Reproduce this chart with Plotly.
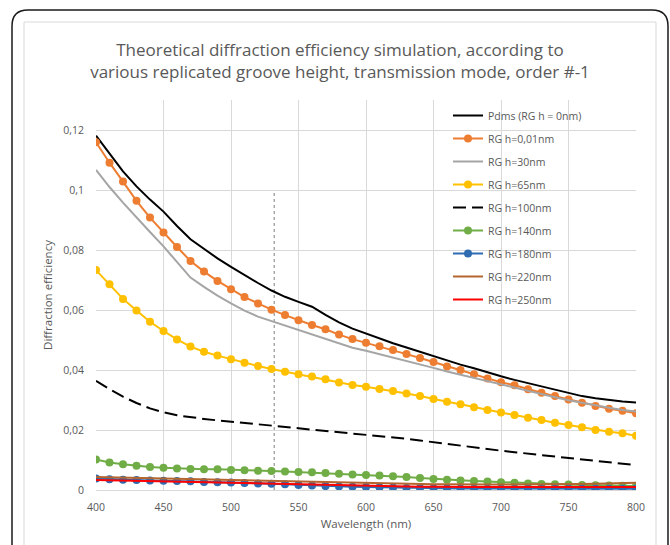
import plotly.graph_objects as go

# Wavelength samples (nm)
wavelength = [400, 410, 420, 430, 440, 450, 460, 470, 480, 490,
              500, 510, 520, 530, 540, 550, 560, 570, 580, 590,
              600, 610, 620, 630, 640, 650, 660, 670, 680, 690,
              700, 710, 720, 730, 740, 750, 760, 770, 780, 790, 800]

# Diffraction efficiency, order -1, for each replicated groove height
pdms_0nm = [0.1181, 0.1120, 0.1062, 0.1012, 0.0968, 0.0928, 0.0880, 0.0836, 0.0803, 0.0772,
            0.0744, 0.0716, 0.0690, 0.0665, 0.0644, 0.0627, 0.0611, 0.0584, 0.0559, 0.0538,
            0.0521, 0.0505, 0.0489, 0.0475, 0.0461, 0.0446, 0.0431, 0.0418, 0.0406, 0.0392,
            0.0379, 0.0367, 0.0356, 0.0344, 0.0333, 0.0322, 0.0313, 0.0306, 0.0300, 0.0295, 0.0292]
rg_001nm = [0.1159, 0.1091, 0.1028, 0.0964, 0.0908, 0.0858, 0.0810, 0.0763, 0.0728, 0.0697,
            0.0669, 0.0643, 0.0622, 0.0601, 0.0583, 0.0566, 0.0550, 0.0536, 0.0518, 0.0503,
            0.0491, 0.0479, 0.0467, 0.0453, 0.0440, 0.0427, 0.0412, 0.0400, 0.0386, 0.0372,
            0.0359, 0.0349, 0.0336, 0.0324, 0.0313, 0.0302, 0.0291, 0.0280, 0.0271, 0.0264, 0.0256]
rg_30nm = [0.1067, 0.1010, 0.0958, 0.0908, 0.0860, 0.0812, 0.0760, 0.0708, 0.0677, 0.0648,
           0.0622, 0.0598, 0.0578, 0.0563, 0.0548, 0.0533, 0.0518, 0.0502, 0.0487, 0.0474,
           0.0464, 0.0453, 0.0442, 0.0430, 0.0418, 0.0407, 0.0395, 0.0384, 0.0373, 0.0362,
           0.0352, 0.0341, 0.0330, 0.0320, 0.0309, 0.0299, 0.0290, 0.0281, 0.0274, 0.0267, 0.0262]
rg_65nm = [0.0733, 0.0686, 0.0637, 0.0598, 0.0561, 0.0530, 0.0502, 0.0478, 0.0461, 0.0448,
           0.0436, 0.0424, 0.0413, 0.0403, 0.0394, 0.0386, 0.0378, 0.0369, 0.0358, 0.0350,
           0.0344, 0.0337, 0.0330, 0.0322, 0.0313, 0.0303, 0.0294, 0.0286, 0.0276, 0.0267,
           0.0258, 0.0250, 0.0241, 0.0233, 0.0224, 0.0217, 0.0209, 0.0200, 0.0194, 0.0189, 0.0181]
rg_100nm = [0.0364, 0.0336, 0.0311, 0.0290, 0.0272, 0.0259, 0.0249, 0.0242, 0.0237, 0.0232,
            0.0228, 0.0224, 0.0220, 0.0215, 0.0211, 0.0206, 0.0201, 0.0197, 0.0192, 0.0187,
            0.0184, 0.0180, 0.0176, 0.0171, 0.0165, 0.0159, 0.0153, 0.0147, 0.0142, 0.0136,
            0.0131, 0.0126, 0.0121, 0.0116, 0.0111, 0.0106, 0.0101, 0.0096, 0.0092, 0.0087, 0.0083]
rg_140nm = [0.0102, 0.0092, 0.0086, 0.0081, 0.0077, 0.0074, 0.0072, 0.0070, 0.0069, 0.0069,
            0.0067, 0.0066, 0.0064, 0.0063, 0.0062, 0.0060, 0.0059, 0.0057, 0.0054, 0.0052,
            0.0050, 0.0048, 0.0046, 0.0043, 0.0040, 0.0037, 0.0034, 0.0032, 0.0030, 0.0028,
            0.0026, 0.0024, 0.0022, 0.0020, 0.0019, 0.0018, 0.0017, 0.0016, 0.0015, 0.0014, 0.0013]
rg_180nm = [0.0038, 0.0036, 0.0034, 0.0033, 0.0032, 0.0031, 0.0030, 0.0029, 0.0027, 0.0026,
            0.0025, 0.0023, 0.0022, 0.0021, 0.0019, 0.0017, 0.0015, 0.0013, 0.0012, 0.0011,
            0.0010, 0.0009, 0.0008, 0.0007, 0.0007, 0.0006, 0.0006, 0.0005, 0.0005, 0.0005,
            0.0005, 0.0004, 0.0004, 0.0004, 0.0004, 0.0004, 0.0004, 0.0004, 0.0004, 0.0004, 0.0004]
rg_220nm = [0.0043, 0.0042, 0.0041, 0.0040, 0.0039, 0.0038, 0.0037, 0.0036, 0.0035, 0.0034,
            0.0032, 0.0031, 0.0030, 0.0029, 0.0028, 0.0027, 0.0026, 0.0025, 0.0024, 0.0023,
            0.0022, 0.0021, 0.0021, 0.0020, 0.0020, 0.0019, 0.0019, 0.0018, 0.0018, 0.0018,
            0.0018, 0.0018, 0.0018, 0.0019, 0.0019, 0.0019, 0.0020, 0.0021, 0.0022, 0.0023, 0.0024]
rg_250nm = [0.0033, 0.0032, 0.0031, 0.0030, 0.0029, 0.0028, 0.0027, 0.0026, 0.0025, 0.0024,
            0.0023, 0.0022, 0.0021, 0.0020, 0.0019, 0.0018, 0.0017, 0.0016, 0.0015, 0.0014,
            0.0013, 0.0012, 0.0012, 0.0011, 0.0011, 0.0011, 0.0010, 0.0010, 0.0010, 0.0010,
            0.0010, 0.0010, 0.0010, 0.0010, 0.0010, 0.0010, 0.0010, 0.0010, 0.0010, 0.0010, 0.0010]

series_names = ["Pdms (RG h = 0nm)", "RG h=0,01nm", "RG h=30nm", "RG h=65nm", "RG h=100nm",
                "RG h=140nm", "RG h=180nm", "RG h=220nm", "RG h=250nm"]

# Reference wavelength marker (green laser line)
marker_wavelength = [532, 532]
marker_range = [0, 0.1]

x_ticks = [400, 450, 500, 550, 600, 650, 700, 750, 800]

FONT = "Open Sans"
TEXT = "#595959"
GRID = "#d9d9d9"

W, H = 670, 545
L, R, T, B = 96, 34, 100, 55
PW, PH = W - L - R, H - T - B

styles = [
    dict(color="#000000", dash="solid", markers=False),
    dict(color="#ED7D31", dash="solid", markers=True),
    dict(color="#A5A5A5", dash="solid", markers=False),
    dict(color="#FFC000", dash="solid", markers=True),
    dict(color="#000000", dash="13px,6px", markers=False),
    dict(color="#70AD47", dash="solid", markers=True),
    dict(color="#2E6BB0", dash="solid", markers=True),
    dict(color="#B5652E", dash="solid", markers=False),
    dict(color="#FF0000", dash="solid", markers=False),
]
values = [pdms_0nm, rg_001nm, rg_30nm, rg_65nm, rg_100nm, rg_140nm, rg_180nm, rg_220nm, rg_250nm]

fig = go.Figure()

fig.add_trace(go.Scatter(
    x=marker_wavelength, y=marker_range, mode="lines",
    line=dict(color="#7f7f7f", width=1, dash="dot"),
    showlegend=False, hoverinfo="skip"))

for name, ys, st in zip(series_names, values, styles):
    fig.add_trace(go.Scatter(
        x=wavelength, y=ys, name=name, legendgroup=name,
        mode="lines+markers" if st["markers"] else "lines",
        line=dict(color=st["color"], width=2, dash=st["dash"]),
        marker=dict(size=8, color=st["color"]),
    ))


def px_x(p):
    return (p - L) / PW


def px_y(p):
    return (H - B - p) / PH


def frame_path(x0, y0, x1, y1, r):
    return (f"M {px_x(x0)} {px_y(y1)} L {px_x(x0)} {px_y(y0 + r)} "
            f"Q {px_x(x0)} {px_y(y0)} {px_x(x0 + r)} {px_y(y0)} "
            f"L {px_x(x1 - r)} {px_y(y0)} "
            f"Q {px_x(x1)} {px_y(y0)} {px_x(x1)} {px_y(y0 + r)} "
            f"L {px_x(x1)} {px_y(y1)}")


shapes = [
    dict(type="path", xref="paper", yref="paper", layer="below",
         path=frame_path(12, 10, 668, 580, 16), line=dict(color="#1a1a1a", width=1.5)),
    dict(type="path", xref="paper", yref="paper", layer="below",
         path=frame_path(24, 22, 656, 580, 0), line=dict(color=GRID, width=1)),
]

fig.update_layout(
    width=W, height=H,
    margin=dict(l=L, r=R, t=T, b=B),
    paper_bgcolor="white", plot_bgcolor="white",
    separators=",.",
    font=dict(family=FONT, color=TEXT, size=11),
    title=dict(
        text="Theoretical diffraction efficiency simulation, according to<br>"
             "various replicated groove height, transmission mode, order #-1",
        x=340 / W, xref="container", xanchor="center",
        y=1 - 56 / H, yref="container", yanchor="top",
        font=dict(family=FONT, size=17, color=TEXT)),
    xaxis=dict(
        range=[400, 800], tickvals=x_ticks, showgrid=True, gridcolor=GRID, gridwidth=1,
        zeroline=False, showline=True, linecolor=GRID, ticks="",
        ticklabelstandoff=7, tickfont=dict(size=10.5, color=TEXT),
        title=dict(text="Wavelength (nm)", standoff=7, font=dict(size=11.5, color=TEXT)),
        automargin=False),
    yaxis=dict(
        range=[0, 0.13], dtick=0.02, tick0=0, showgrid=True, gridcolor=GRID, gridwidth=1,
        zeroline=False, showline=False, ticks="",
        ticklabelstandoff=11, tickfont=dict(size=10.5, color=TEXT),
        title=dict(text="Diffraction efficiency", standoff=8, font=dict(size=11.5, color=TEXT)),
        automargin=False),
    legend=dict(
        x=px_x(448), y=px_y(101), xanchor="left", yanchor="top",
        bgcolor="rgba(0,0,0,0)", font=dict(size=10.5, color=TEXT),
        tracegroupgap=4, itemwidth=30),
    shapes=shapes,
    showlegend=True,
)

fig.write_html("out.html")
